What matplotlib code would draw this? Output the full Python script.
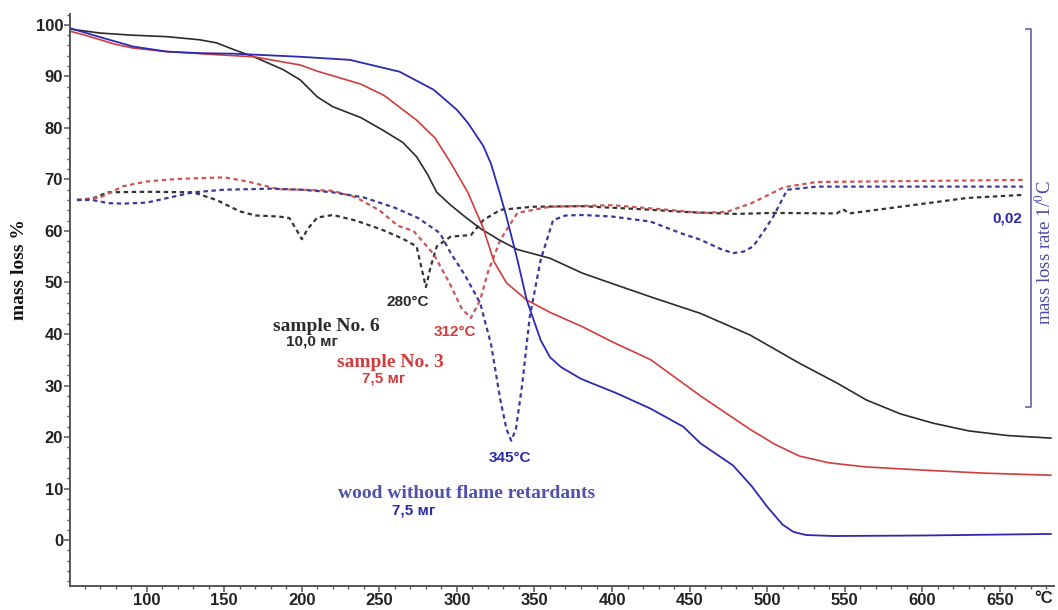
"""TG / DTG curves of wood samples with and without flame retardants."""
import matplotlib
matplotlib.use("agg")
import matplotlib.pyplot as plt
import matplotlib.transforms as mtransforms
from matplotlib.ticker import MultipleLocator

# ---------------------------------------------------------------------------
# Data (temperature in °C, mass in %)
# ---------------------------------------------------------------------------

# solid TG curves
tg6_t = [50, 70, 90, 113, 134, 145, 156, 169, 188, 199, 204, 210, 220, 238, 252,
         265, 274, 281, 287, 296, 305, 315, 327, 339, 360, 381, 400, 425, 457,
         489, 521, 545, 564, 586, 607, 630, 655, 683]
tg6_m = [99.2, 98.4, 98.0, 97.7, 97.1, 96.5, 95.2, 93.8, 91.3, 89.3, 87.8, 86.0,
         84.1, 82.0, 79.6, 77.2, 74.4, 71.0, 67.5, 65.0, 62.8, 60.5, 58.3, 56.4,
         54.7, 51.8, 49.8, 47.2, 44.0, 39.8, 34.3, 30.5, 27.2, 24.5, 22.7, 21.2,
         20.3, 19.8]

tg3_t = [50, 60, 70, 80, 91, 113, 145, 169, 199, 210, 238, 253, 274, 286, 296,
         307, 317, 324, 332, 345, 360, 381, 400, 425, 457, 489, 505, 521, 540,
         564, 600, 640, 683]
tg3_m = [98.8, 98.0, 97.1, 96.2, 95.5, 94.8, 94.2, 93.8, 92.2, 91.0, 88.5, 86.3,
         81.5, 78.0, 73.2, 67.5, 60.5, 54.0, 49.9, 46.6, 44.2, 41.4, 38.5, 35.0,
         28.0, 21.5, 18.6, 16.3, 15.0, 14.2, 13.6, 13.0, 12.6]

tgw_t = [50, 70, 91, 113, 135, 156, 199, 231, 263, 285, 300, 307, 317, 322, 327,
         332, 339, 345, 354, 360, 367, 380, 403, 425, 446, 457, 478, 490, 500,
         510, 517, 525, 543, 600, 683]
tgw_m = [99.4, 97.6, 95.8, 94.8, 94.5, 94.4, 93.8, 93.2, 90.9, 87.4, 83.5, 81.0,
         76.5, 73.0, 68.0, 62.7, 54.4, 46.6, 38.8, 35.5, 33.6, 31.3, 28.5, 25.5,
         22.0, 18.8, 14.5, 10.5, 6.5, 3.0, 1.6, 1.0, 0.8, 0.9, 1.2]

# dotted DTG curves (drawn on the same scale as in the reference)
dtg6_t = [55, 65, 75, 100, 130, 145, 160, 170, 185, 192, 196, 200, 204, 210, 220,
          235, 252, 265, 274, 277, 280, 283, 287, 296, 309, 317, 328, 349, 381,
          420, 446, 480, 504, 545, 549, 553, 586, 629, 665]
dtg6_v = [66.0, 66.3, 67.5, 67.6, 67.5, 66.0, 63.8, 63.0, 62.8, 62.5, 60.5, 58.4,
          60.5, 62.6, 63.1, 62.0, 60.2, 58.5, 57.0, 53.0, 49.1, 53.0, 57.0, 58.9,
          59.2, 62.1, 64.1, 64.7, 64.8, 64.2, 63.7, 63.3, 63.5, 63.4, 64.2, 63.4,
          64.7, 66.4, 67.0]

dtg3_t = [55, 70, 85, 100, 120, 150, 165, 185, 200, 220, 235, 250, 262, 272, 285,
          295, 303, 309, 315, 320, 328, 339, 360, 400, 440, 457, 474, 490, 511,
          532, 600, 665]
dtg3_v = [66.0, 66.5, 68.7, 69.6, 70.1, 70.4, 69.6, 68.1, 68.0, 67.8, 66.5, 64.0,
          61.0, 60.0, 55.5, 50.0, 45.0, 43.1, 46.6, 52.0, 58.3, 63.5, 64.7, 65.0,
          64.0, 63.5, 63.7, 65.4, 68.5, 69.5, 69.7, 69.9]

dtgw_t = [55, 65, 75, 85, 100, 115, 130, 150, 180, 200, 220, 240, 260, 275, 289,
          296, 305, 315, 322, 328, 332, 335, 338, 342, 347, 354, 362, 370, 381,
          400, 425, 445, 457, 470, 478, 485, 491, 498, 504, 513, 532, 600, 665]
dtgw_v = [66.0, 66.0, 65.4, 65.3, 65.5, 66.5, 67.5, 68.0, 68.2, 68.0, 67.5, 66.5,
          64.5, 62.5, 59.6, 55.7, 51.5, 46.0, 38.0, 27.2, 21.5, 19.3, 21.5, 30.0,
          43.4, 54.4, 62.1, 63.0, 63.1, 62.8, 61.8, 59.5, 58.3, 56.5, 55.7, 56.0,
          57.0, 60.0, 62.8, 68.0, 68.6, 68.6, 68.6]

x_ticks = [100, 150, 200, 250, 300, 350, 400, 450, 500, 550, 600, 650]
y_ticks = [0, 10, 20, 30, 40, 50, 60, 70, 80, 90, 100]

BLACK = "#2b2b2b"
RED = "#d23c3c"
BLUE = "#2a2ab4"
SLATE = "#4a4aa6"
SERIF = ["Liberation Serif", "DejaVu Serif"]
SANS = ["Liberation Sans", "DejaVu Sans"]

# ---------------------------------------------------------------------------
# Figure
# ---------------------------------------------------------------------------

fig = plt.figure(figsize=(10.58, 6.10), dpi=100)
ax = fig.add_axes([70 / 1058, 1 - 586 / 610, 984 / 1058, 572 / 610])

dots = (0, (2.0, 1.6))
ax.plot(dtg6_t, dtg6_v, color="#333333", lw=1.6, linestyle=dots)
ax.plot(dtg3_t, dtg3_v, color="#cc5555", lw=1.6, linestyle=dots)
ax.plot(dtgw_t, dtgw_v, color="#3a3a9c", lw=1.6, linestyle=dots)

ax.plot(tg6_t, tg6_m, color=BLACK, lw=1.2)
ax.plot(tg3_t, tg3_m, color=RED, lw=1.2)
ax.plot(tgw_t, tgw_m, color=BLUE, lw=1.3)

ax.set_xlim(50.5, 685)
ax.set_ylim(-8.9, 102.1)
ax.xaxis.set_major_locator(plt.FixedLocator(x_ticks))
ax.yaxis.set_major_locator(plt.FixedLocator(y_ticks))
ax.xaxis.set_minor_locator(MultipleLocator(10))
ax.yaxis.set_minor_locator(MultipleLocator(2))

for side in ("top", "right"):
    ax.spines[side].set_visible(False)
for side in ("left", "bottom"):
    ax.spines[side].set_color("#555555")
    ax.spines[side].set_linewidth(1.4)

ax.tick_params(which="major", length=4, width=1.1, color="#555555",
               labelsize=12, pad=1.0)
ax.tick_params(which="minor", length=2.5, width=1.0, color="#555555")
for lab in ax.get_xticklabels() + ax.get_yticklabels():
    lab.set_fontweight("bold")
    lab.set_family(SANS)
    lab.set_color("#222222")

trans = mtransforms.blended_transform_factory(ax.transData, ax.transAxes)
ax.text(678, -0.008, "°C", transform=trans, ha="center", va="top",
        fontsize=12, fontweight="bold", family=SANS, color="#222222")

# peak labels and sample names
ax.text(268, 46.2, "280°C", ha="center", va="center", fontsize=11,
        fontweight="bold", family=SANS, color=BLACK)
ax.text(216, 41.5, "sample No. 6", ha="center", va="center", fontsize=14,
        fontweight="bold", family=SERIF, color=BLACK)
ax.text(206.5, 38.6, "10,0 мг", ha="center", va="center", fontsize=11,
        fontweight="bold", family=SANS, color=BLACK)

ax.text(299, 40.4, "312°C", ha="center", va="center", fontsize=11,
        fontweight="bold", family=SANS, color=RED)
ax.text(257, 34.4, "sample No. 3", ha="center", va="center", fontsize=14,
        fontweight="bold", family=SERIF, color=RED)
ax.text(252.6, 31.4, "7,5 мг", ha="center", va="center", fontsize=11,
        fontweight="bold", family=SANS, color=RED)

ax.text(334, 15.9, "345°C", ha="center", va="center", fontsize=11,
        fontweight="bold", family=SANS, color="#2a2aa8")
ax.text(306, 9.1, "wood without flame retardants", ha="center", va="center",
        fontsize=14, fontweight="bold", family=SERIF, color="#5050b0")
ax.text(272, 5.8, "7,5 мг", ha="center", va="center", fontsize=11,
        fontweight="bold", family=SANS, color="#2a2aa8")

# right-hand bracket for the rate scale
ax.plot([667, 670, 670, 667], [99.2, 99.2, 25.8, 25.8], color="#6060a8",
        lw=1.2, clip_on=False)
ax.text(655, 62.5, "0,02", ha="center", va="center", fontsize=11,
        fontweight="bold", family=SANS, color="#2a2aa8")

fig.text(20 / 1058, 1 - 270 / 610, "mass loss %", rotation=90, ha="center",
         va="center", fontsize=14, fontweight="bold", family=SERIF, color="#111111")
fig.text(1045 / 1058, 1 - 253 / 610, "mass loss rate 1/$^0$C", rotation=90,
         ha="center", va="center", fontsize=13.5, family=SERIF, color=SLATE,
         math_fontfamily="stix")

fig.savefig("out.png", dpi=100)
print("[Plot] out.png")
